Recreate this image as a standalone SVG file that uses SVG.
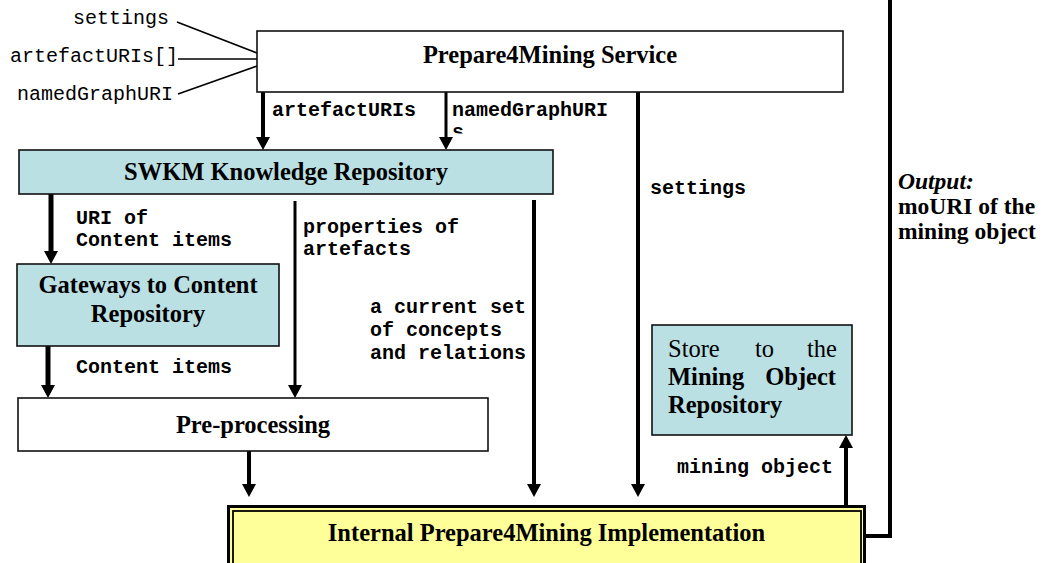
<svg xmlns="http://www.w3.org/2000/svg" width="1046" height="563" viewBox="0 0 1046 563">
<style>
.box{stroke:#111;stroke-width:1.6}
.teal{fill:#BBE0E3}
.white{fill:#fff}
.t{font-family:"Liberation Serif","Times New Roman",serif;font-size:24.5px;font-weight:bold;fill:#000}
.tr{font-family:"Liberation Serif","Times New Roman",serif;font-size:24.5px;fill:#000}
.o{font-family:"Liberation Serif","Times New Roman",serif;font-size:23.5px;font-weight:bold;fill:#000}
.m{font-family:"Liberation Mono","Courier New",monospace;font-size:20px;fill:#000}
.mb{font-family:"Liberation Mono","Courier New",monospace;font-size:20px;font-weight:bold;fill:#000}
.c{stroke:#000;fill:none}
</style>
<defs>
<marker id="ah" markerUnits="userSpaceOnUse" markerWidth="14" markerHeight="14" refX="8" refY="7" orient="auto" viewBox="0 0 14 14">
<path d="M0,0 L13,7 L0,14 z" fill="#000"/>
</marker>
<clipPath id="cut"><rect x="440" y="120" width="40" height="13.5"/></clipPath>
</defs>
<rect width="1046" height="563" fill="#fff"/>

<g id="connectors">
<line class="c" x1="177" y1="22" x2="257" y2="53" stroke-width="1.6"/>
<line class="c" x1="178" y1="59" x2="257" y2="59" stroke-width="1.6"/>
<line class="c" x1="178" y1="94" x2="257" y2="66" stroke-width="1.6"/>
<line class="c" x1="263" y1="92" x2="263" y2="145" stroke-width="4" marker-end="url(#ah)"/>
<line class="c" x1="446" y1="92" x2="446" y2="145" stroke-width="3" marker-end="url(#ah)"/>
<line class="c" x1="638" y1="92" x2="638" y2="492" stroke-width="4" marker-end="url(#ah)"/>
<line class="c" x1="51" y1="194" x2="51" y2="259" stroke-width="5" marker-end="url(#ah)"/>
<line class="c" x1="295" y1="201" x2="295" y2="393" stroke-width="3" marker-end="url(#ah)"/>
<line class="c" x1="534" y1="200" x2="534" y2="492" stroke-width="4" marker-end="url(#ah)"/>
<line class="c" x1="48" y1="346" x2="48" y2="393" stroke-width="5" marker-end="url(#ah)"/>
<line class="c" x1="249" y1="451" x2="249" y2="492" stroke-width="4" marker-end="url(#ah)"/>
<line class="c" x1="846" y1="506" x2="846" y2="440" stroke-width="4" marker-end="url(#ah)"/>
<polyline class="c" points="866,536 890,536 890,0" stroke-width="4"/>
</g>

<g id="inputs">
<text class="m" x="169" y="24" text-anchor="end">settings</text>
<text class="m" x="10" y="62">artefactURIs[]</text>
<text class="m" x="17" y="100">namedGraphURI</text>
</g>

<g id="labels">
<text class="mb" x="272" y="116">artefactURIs</text>
<text class="mb" x="452" y="116">namedGraphURI</text>
<text class="mb" x="452" y="138" clip-path="url(#cut)">s</text>
<text class="mb" x="650" y="194">settings</text>
<text class="mb" x="76" y="224">URI of</text>
<text class="mb" x="76" y="246">Content items</text>
<text class="mb" x="303" y="233">properties of</text>
<text class="mb" x="303" y="255">artefacts</text>
<text class="mb" x="370" y="313">a current set</text>
<text class="mb" x="370" y="336">of concepts</text>
<text class="mb" x="370" y="359">and relations</text>
<text class="mb" x="76" y="373">Content items</text>
<text class="mb" x="677" y="473">mining object</text>
<text class="o" x="898" y="189" font-style="italic">Output:</text>
<text class="o" x="898" y="214">moURI of the</text>
<text class="o" x="898" y="239">mining object</text>
</g>

<g id="prepare4mining-service">
<rect class="box white" x="257" y="31" width="586" height="61"/>
<text class="t" x="550" y="63" text-anchor="middle">Prepare4Mining Service</text>
</g>

<g id="swkm">
<rect class="box teal" x="19" y="150" width="534" height="44"/>
<text class="t" x="286" y="180" text-anchor="middle">SWKM Knowledge Repository</text>
</g>

<g id="gateways">
<rect class="box teal" x="17" y="264" width="262" height="82"/>
<text class="t" x="148" y="293" text-anchor="middle">Gateways to Content</text>
<text class="t" x="148" y="322" text-anchor="middle">Repository</text>
</g>

<g id="preprocessing">
<rect class="box white" x="18" y="398" width="470" height="53"/>
<text class="t" x="253" y="433" text-anchor="middle">Pre-processing</text>
</g>

<g id="store">
<rect class="box teal" x="652" y="325" width="200" height="110"/>
<text class="tr" x="668" y="357">Store</text>
<text class="tr" x="755" y="357">to</text>
<text class="tr" x="837" y="357" text-anchor="end">the</text>
<text class="t" x="668" y="385">Mining</text>
<text class="t" x="836" y="385" text-anchor="end">Object</text>
<text class="t" x="668" y="413">Repository</text>
</g>

<g id="internal">
<rect x="228.5" y="506.5" width="636" height="80" fill="#FFFF99" stroke="#000" stroke-width="3"/>
<rect x="233" y="511" width="628" height="70" fill="none" stroke="#000" stroke-width="1.8"/>
<text class="t" x="546.5" y="541" text-anchor="middle">Internal Prepare4Mining Implementation</text>
</g>
</svg>
